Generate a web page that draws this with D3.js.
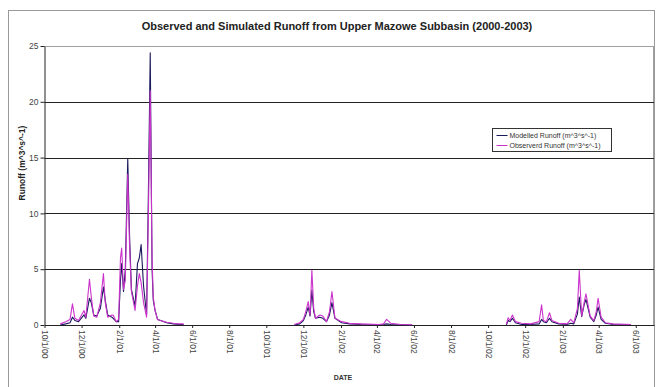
<!DOCTYPE html>
<html>
<head>
<meta charset="utf-8">
<script src="https://cdn.jsdelivr.net/npm/d3@7"></script>
<style>
  body { margin: 0; background: #fff; }
  svg { display: block; font-family: "Liberation Sans", Arial, sans-serif; }
</style>
</head>
<body>
<svg id="chart" width="662" height="387"></svg>
<script>
// daily runoff readings (wet seasons only), null = no data between seasons
const dates = [
  "2000-10-27","2000-11-05","2000-11-12","2000-11-16","2000-11-20","2000-11-26","2000-12-05","2000-12-08",
  "2000-12-14","2000-12-17","2000-12-21","2000-12-26","2001-01-01","2001-01-06","2001-01-09","2001-01-13",
  "2001-01-20","2001-01-22","2001-01-27","2001-01-31","2001-02-03","2001-02-05","2001-02-08","2001-02-11",
  "2001-02-15","2001-02-18","2001-02-21","2001-02-27","2001-03-03","2001-03-06","2001-03-09","2001-03-13",
  "2001-03-18","2001-03-21","2001-03-24","2001-03-27","2001-03-29","2001-04-01","2001-04-05","2001-04-10",
  "2001-04-20","2001-05-01","2001-05-10","2001-05-18",
  "2001-08-01",
  "2001-11-16","2001-11-25","2001-12-01","2001-12-05","2001-12-09","2001-12-12","2001-12-15","2001-12-18",
  "2001-12-21","2001-12-28","2002-01-02","2002-01-08","2002-01-13","2002-01-17","2002-01-22","2002-02-02",
  "2002-02-15","2002-03-05","2002-04-05","2002-04-12","2002-04-17","2002-04-24","2002-05-10","2002-05-29",
  "2002-08-01",
  "2002-10-31","2002-11-03","2002-11-06","2002-11-10","2002-11-15","2002-11-25","2002-12-10","2002-12-24",
  "2002-12-28","2002-12-31","2003-01-05","2003-01-10","2003-01-14","2003-01-25","2003-02-08","2003-02-14",
  "2003-02-19","2003-02-25","2003-02-28","2003-03-04","2003-03-08","2003-03-11","2003-03-18","2003-03-24",
  "2003-03-28","2003-03-31","2003-04-05","2003-04-12","2003-04-25","2003-05-24"
];

const modelled = [
  0.0, 0.1, 0.2, 0.7, 0.4, 0.3, 0.9, 0.6,
  2.4, 2.0, 0.9, 0.8, 1.5, 3.4, 2.2, 0.9,
  0.7, 0.6, 0.3, 0.3, 4.0, 5.5, 3.0, 5.0,
  14.9, 8.0, 3.2, 1.7, 5.5, 6.0, 7.2, 3.5,
  0.9, 12.0, 24.4, 5.0, 2.2, 1.3, 0.5, 0.4,
  0.2, 0.1, 0.05, 0.05,
  null,
  0.0, 0.1, 0.4, 0.9, 1.6, 0.8, 3.1, 1.2,
  0.6, 0.7, 0.6, 0.3, 0.9, 2.0, 0.6, 0.2,
  0.1, 0.05, 0.02, 0.05, 0.1, 0.05, 0.02, 0.0,
  null,
  0.0, 0.4, 0.3, 0.6, 0.2, 0.05, 0.05, 0.1,
  0.5, 0.3, 0.2, 0.6, 0.3, 0.1, 0.05, 0.15,
  0.1, 1.0, 2.5, 0.75, 1.8, 2.3, 0.7, 0.3,
  0.9, 1.6, 0.5, 0.15, 0.05, 0.02
];

const observed = [
  0.1, 0.3, 0.5, 1.9, 0.6, 0.4, 1.3, 0.7,
  4.1, 2.5, 0.8, 0.7, 2.0, 4.6, 2.0, 0.7,
  0.9, 0.9, 0.3, 0.5, 6.0, 6.9, 3.2, 4.0,
  13.5, 7.0, 3.0, 1.3, 3.5, 4.6, 3.8, 2.0,
  0.7, 10.0, 21.0, 6.0, 2.5, 1.3, 0.5, 0.4,
  0.25, 0.15, 0.1, 0.1,
  null,
  0.05, 0.2, 0.5, 1.2, 2.1, 0.9, 4.9, 1.5,
  0.6, 0.9, 0.8, 0.3, 1.2, 3.0, 0.6, 0.3,
  0.15, 0.1, 0.05, 0.1, 0.5, 0.15, 0.05, 0.02,
  null,
  0.05, 0.65, 0.4, 0.9, 0.3, 0.15, 0.1, 0.3,
  1.8, 0.4, 0.3, 1.1, 0.4, 0.15, 0.1, 0.5,
  0.2, 1.5, 4.9, 0.8, 2.0, 2.8, 0.8, 0.4,
  1.2, 2.4, 0.7, 0.2, 0.1, 0.05
];

const tickDates = [
  "2000-10-01","2000-12-01","2001-02-01","2001-04-01","2001-06-01","2001-08-01","2001-10-01","2001-12-01",
  "2002-02-01","2002-04-01","2002-06-01","2002-08-01","2002-10-01","2002-12-01","2003-02-01","2003-04-01","2003-06-01"
];
const yTicks = [0, 5, 10, 15, 20, 25];

const seriesNames = ["Modelled Runoff  (m^3^s^-1)", "Observerd Runoff (m^3^s^-1)"];
const seriesColors = ["#1a1a5e", "#cc33cc"];

const parse = d3.timeParse("%Y-%m-%d");
const fmt = d3.timeFormat("%-m/%-d/%y");

const svg = d3.select("#chart");

// chart frame
svg.append("rect")
  .attr("x", 8.5).attr("y", 10.5)
  .attr("width", 646).attr("height", 400)
  .attr("fill", "#fff")
  .attr("stroke", "#999");

const x = d3.scaleTime()
  .domain([parse("2000-10-01"), parse("2003-07-01")])
  .range([44.5, 654]);

const y = d3.scaleLinear()
  .domain([0, 25])
  .range([325, 46]);

// plot border (top / right, gray)
svg.append("line")
  .attr("x1", x.range()[0]).attr("x2", x.range()[1])
  .attr("y1", y(25) + 0.5).attr("y2", y(25) + 0.5)
  .attr("stroke", "#a0a0a0");
svg.append("line")
  .attr("x1", x.range()[1] - 0.5).attr("x2", x.range()[1] - 0.5)
  .attr("y1", y(25)).attr("y2", y(0))
  .attr("stroke", "#a0a0a0");

// gridlines
svg.append("g")
  .selectAll("line")
  .data(yTicks.filter(d => d > 0 && d < 25))
  .enter().append("line")
  .attr("x1", x.range()[0]).attr("x2", x.range()[1])
  .attr("y1", d => Math.round(y(d)) + 0.5)
  .attr("y2", d => Math.round(y(d)) + 0.5)
  .attr("stroke", "#222")
  .attr("stroke-width", 1);

// y axis
const yAxis = svg.append("g")
  .attr("transform", `translate(${x.range()[0]},0)`)
  .call(d3.axisLeft(y).tickValues(yTicks).tickSize(4).tickSizeOuter(0));
yAxis.select(".domain").attr("stroke", "#222");
yAxis.selectAll(".tick line").attr("stroke", "#222");
yAxis.selectAll("text")
  .attr("font-size", 8.5).attr("fill", "#444")
  .attr("x", -6);

// x axis
const xAxis = svg.append("g")
  .attr("transform", `translate(0,${y(0)})`)
  .call(d3.axisBottom(x).tickValues(tickDates.map(parse)).tickFormat(fmt).tickSize(3).tickSizeOuter(0));
xAxis.select(".domain").attr("stroke", "#222");
xAxis.selectAll(".tick line").attr("stroke", "#222");
xAxis.selectAll("text")
  .attr("font-size", 8.5).attr("fill", "#444")
  .attr("text-anchor", "start")
  .attr("y", 0).attr("dy", "0.35em")
  .attr("transform", "translate(0,5) rotate(90)");

// lines
const line = d3.line()
  .defined(d => d.v != null)
  .x(d => x(d.date))
  .y(d => y(d.v));

[modelled, observed].forEach((vals, i) => {
  const pts = dates.map((d, j) => ({ date: parse(d), v: vals[j] }));
  svg.append("path")
    .datum(pts)
    .attr("fill", "none")
    .attr("stroke", seriesColors[i])
    .attr("stroke-width", 1.1)
    .attr("stroke-linejoin", "round")
    .attr("d", line);
});

// title
svg.append("text")
  .attr("x", 337).attr("y", 30)
  .attr("text-anchor", "middle")
  .attr("font-size", 11).attr("font-weight", "bold")
  .attr("fill", "#222")
  .text("Observed and Simulated Runoff from Upper Mazowe Subbasin (2000-2003)");

// axis titles
svg.append("text")
  .attr("transform", "translate(25,163) rotate(-90)")
  .attr("text-anchor", "middle")
  .attr("font-size", 8.5).attr("font-weight", "bold")
  .attr("fill", "#222")
  .text("Runoff  (m^3^s^-1)");

svg.append("text")
  .attr("x", 343).attr("y", 380)
  .attr("text-anchor", "middle")
  .attr("font-size", 7).attr("font-weight", "bold")
  .attr("fill", "#333")
  .text("DATE");

// legend
const legend = svg.append("g").attr("transform", "translate(492.5,128.5)");
legend.append("rect")
  .attr("width", 119).attr("height", 23)
  .attr("fill", "#fff").attr("stroke", "#333");
seriesNames.forEach((name, i) => {
  const ly = 7 + i * 10;
  legend.append("line")
    .attr("x1", 4).attr("x2", 15)
    .attr("y1", ly).attr("y2", ly)
    .attr("stroke", seriesColors[i]);
  legend.append("text")
    .attr("x", 17).attr("y", ly).attr("dy", "0.35em")
    .attr("font-size", 7).attr("fill", "#333")
    .text(name);
});
</script>
</body>
</html>
